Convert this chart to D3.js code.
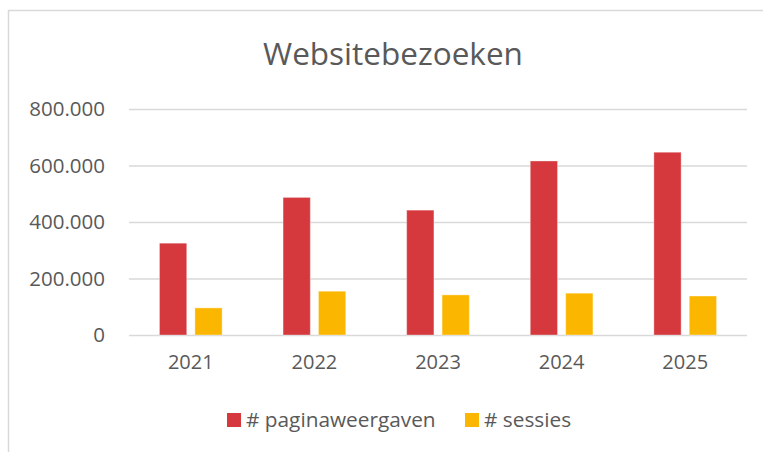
<!DOCTYPE html>
<html>
<head>
<meta charset="utf-8">
<script src="https://cdn.jsdelivr.net/npm/d3@7"></script>
<style>
  html, body { margin: 0; padding: 0; background: #fff; }
  svg { display: block; }
  text { font-family: "Open Sans", sans-serif; fill: #595959; }
</style>
</head>
<body>
<svg width="763" height="452"></svg>
<script>
// data
var years = ["2021", "2022", "2023", "2024", "2025"];
var seriesNames = ["# paginaweergaven", "# sessies"];
var paginaweergaven = [325000, 487000, 442000, 616000, 647000];
var sessies = [96000, 155000, 142000, 148000, 138000];
var yTicks = [0, 200000, 400000, 600000, 800000];
var colors = ["#D5393E", "#FBB700"];

window.onload = function () {
	var svg = d3.select("svg");
	var margin = {top: 109, right: 16, bottom: 117, left: 129};
	var width = 763 - margin.left - margin.right;
	var height = 452 - margin.top - margin.bottom;

	// chart frame (cut off at right and bottom like the screenshot)
	svg.append("rect")
		.attr("x", 8.5).attr("y", 10.5)
		.attr("width", 800).attr("height", 500)
		.attr("fill", "none")
		.attr("stroke", "#D9D9D9")
		.attr("stroke-width", 1.5);

	svg.append("text")
		.attr("x", 393).attr("y", 65)
		.attr("text-anchor", "middle")
		.style("font-size", "31.5px")
		.text("Websitebezoeken");

	var g = svg.append("g").attr("transform", "translate(" + margin.left + "," + margin.top + ")");

	//scales
	var y = d3.scaleLinear().domain([0, 800000]).range([height, 0]);
	var x0 = d3.scaleBand().domain(years).range([0, width])
		.paddingInner(0.493).paddingOuter(0.2465);
	var x1 = d3.scaleBand().domain(seriesNames).range([0, x0.bandwidth()])
		.paddingInner(0.23);

	var fmt = function (v) { return d3.format(",")(v).replace(/,/g, "."); };

	// gridlines + y labels
	var yAxis = g.append("g")
		.call(d3.axisLeft(y).tickValues(yTicks).tickSize(-width).tickFormat(fmt).tickPadding(24));
	yAxis.select(".domain").remove();
	yAxis.selectAll(".tick line").attr("stroke", "#D9D9D9").attr("stroke-width", 1.5);
	yAxis.selectAll(".tick text")
		.attr("fill", "#595959")
		.style("font-size", "20.5px")
		.style("font-family", "'Open Sans', sans-serif");

	// x labels
	var xAxis = g.append("g")
		.attr("transform", "translate(0," + height + ")")
		.call(d3.axisBottom(x0).tickSize(0).tickPadding(20));
	xAxis.select(".domain").remove();
	xAxis.selectAll(".tick text")
		.attr("fill", "#595959")
		.style("font-size", "20px")
		.style("font-family", "'Open Sans', sans-serif");

	var rows = years.map(function (yr, i) {
		return {year: yr, values: [paginaweergaven[i], sessies[i]]};
	});

	var groups = g.selectAll("g.year")
		.data(rows)
		.enter().append("g")
		.attr("class", "year")
		.attr("transform", function (d) { return "translate(" + x0(d.year) + ",0)"; });

	groups.selectAll("rect")
		.data(function (d) { return d.values.map(function (v, j) { return {name: seriesNames[j], value: v, j: j}; }); })
		.enter().append("rect")
		.attr("x", function (d) { return x1(d.name); })
		.attr("y", function (d) { return y(d.value); })
		.attr("width", x1.bandwidth())
		.attr("height", function (d) { return height - y(d.value); })
		.attr("fill", function (d) { return colors[d.j]; })
		.attr("stroke", "rgba(255,255,255,0.35)")
		.attr("stroke-width", 1);

	// legend
	var legendX = [227, 465];
	var legend = svg.selectAll("g.legend")
		.data(seriesNames)
		.enter().append("g")
		.attr("class", "legend")
		.attr("transform", function (d, i) { return "translate(" + legendX[i] + ",413)"; });
	legend.append("rect")
		.attr("width", 14).attr("height", 14)
		.attr("fill", function (d, i) { return colors[i]; });
	legend.append("text")
		.attr("x", 19).attr("y", 14)
		.style("font-size", "20.8px")
		.text(function (d) { return d; });
};
</script>
</body>
</html>
